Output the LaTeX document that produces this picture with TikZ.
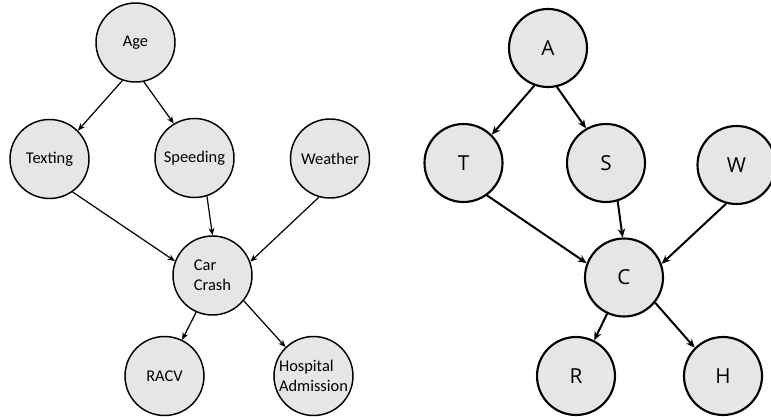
\documentclass[tikz,border=0pt]{standalone}
\usepackage{fontspec}
\setmainfont{Carlito}
\newfontfamily\letterfont{Open Sans}
\usetikzlibrary{arrows.meta}
\definecolor{nodefill}{RGB}{230,230,230}
\tikzset{
  wordnode/.style={circle, draw=black, fill=nodefill, line width=1.1pt, inner sep=0pt,
    minimum size=79*0.75pt, align=left, font=\fontsize{12.3}{14.7}\selectfont},
  letternode/.style={circle, draw=black, fill=nodefill, line width=1.6pt, inner sep=0pt,
    minimum size=78*0.75pt, font=\letterfont\fontsize{15.5}{18}\selectfont},
  wordarrow/.style={line width=0.9pt, -{Stealth[length=5.5pt,width=4.5pt]}},
  letterarrow/.style={line width=1.5pt, -{Stealth[length=6.5pt,width=5.5pt]}}
}
\begin{document}
\begin{tikzpicture}[x=0.75pt,y=-0.75pt]
\useasboundingbox (0,0) rectangle (771,417);
\clip (0,0) rectangle (771,417);
% left graph
\node[wordnode] (age) at (135.5,42.5) {Age};
\node[wordnode] (tex) at (49.5,159) {Texting};
\node[wordnode] (spd) at (194.5,158) {Speeding};
\node[wordnode] (wea) at (330,158.5) {Weather};
\node[wordnode] (crash) at (212.5,275.5) {Car\\Crash};
\node[wordnode] (racv) at (164.5,376) {RACV};
\node[wordnode] (hosp) at (313.5,376) {Hospital\\Admission};
\draw[wordarrow] (age.251) -- (tex.45);
\draw[wordarrow] (age.282) -- (spd.121);
\draw[wordarrow] (tex.305) -- (crash.159);
\draw[wordarrow] (spd.288) -- (crash.90);
\draw[wordarrow] (wea.254) -- (crash.20);
\draw[wordarrow] (crash.246) -- (racv.64);
\draw[wordarrow] (crash.321) -- (hosp.134);
% right graph
\node[letternode] (a) at (548,48) {A};
\node[letternode] (t) at (463.5,163) {T};
\node[letternode] (s) at (606,163) {S};
\node[letternode] (w) at (736.5,165) {W};
\node[letternode] (c) at (624,277.5) {C};
\node[letternode] (r) at (576,376) {R};
\node[letternode] (h) at (723,376) {H};
\draw[letterarrow] (a.250) -- (t.45);
\draw[letterarrow] (a.283) -- (s.120);
\draw[letterarrow] (t.306) -- (c.159);
\draw[letterarrow] (s.287) -- (c.92);
\draw[letterarrow] (w.255) -- (c.20);
\draw[letterarrow] (c.245) -- (r.63);
\draw[letterarrow] (c.321) -- (h.135);
\end{tikzpicture}
\end{document}
